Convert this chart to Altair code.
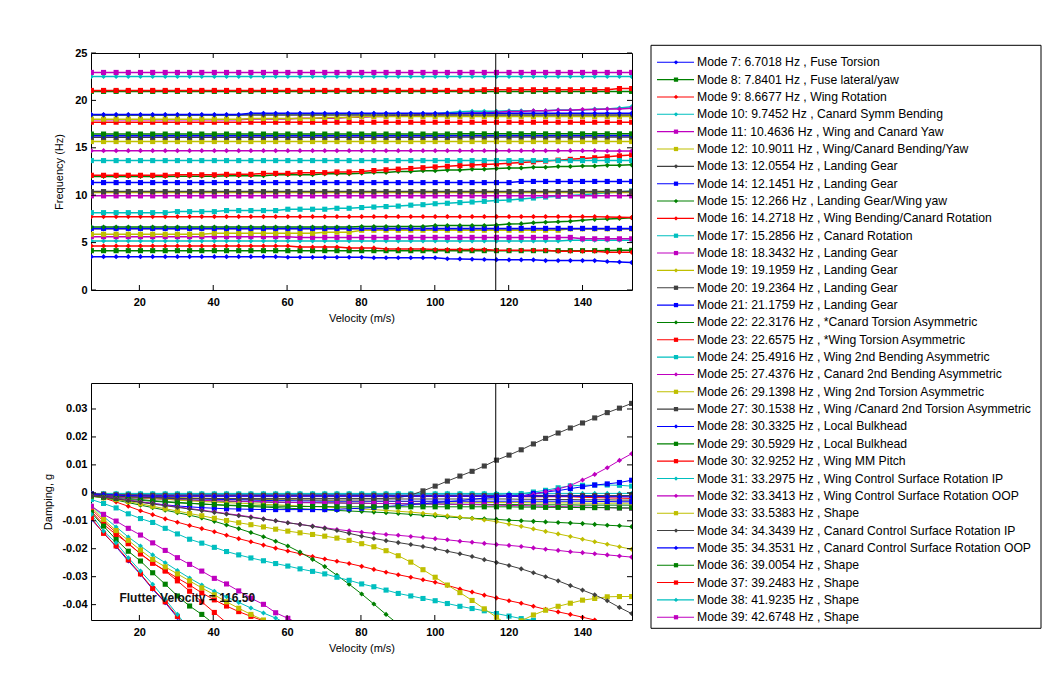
import altair as alt
import pandas as pd

# ---------------- data ----------------
VEL = [7.0, 10.3, 13.7, 17.0, 20.3, 23.6, 27.0, 30.3, 33.6, 36.9, 40.3, 43.6, 46.9, 50.2, 53.6,
       56.9, 60.2, 63.5, 66.9, 70.2, 73.5, 76.8, 80.2, 83.5, 86.8, 90.1, 93.5, 96.8, 100.1, 103.4,
       106.8, 110.1, 113.4, 116.7, 120.1, 123.4, 126.7, 130.0, 133.4, 136.7, 140.0, 143.3, 146.7, 150.0, 153.3]
FLUTTER_V = 116.5
X_DOMAIN = [6.9, 153.4]
X_TICKS = [20, 40, 60, 80, 100, 120, 140]
F_DOMAIN = [0, 25]
F_TICKS = [0, 5, 10, 15, 20, 25]
G_DOMAIN = [-0.0455, 0.0393]
G_TICKS = [-0.04, -0.03, -0.02, -0.01, 0, 0.01, 0.02, 0.03]
TEXT_V = 14.6
TEXT_G = -0.0375

MODES = list(range(7, 40))
LABELS = [
    "Mode 7: 6.7018 Hz , Fuse Torsion",
    "Mode 8: 7.8401 Hz , Fuse lateral/yaw",
    "Mode 9: 8.6677 Hz , Wing Rotation",
    "Mode 10: 9.7452 Hz , Canard Symm Bending",
    "Mode 11: 10.4636 Hz , Wing and Canard Yaw",
    "Mode 12: 10.9011 Hz , Wing/Canard Bending/Yaw",
    "Mode 13: 12.0554 Hz , Landing Gear",
    "Mode 14: 12.1451 Hz , Landing Gear",
    "Mode 15: 12.266 Hz , Landing Gear/Wing yaw",
    "Mode 16: 14.2718 Hz , Wing Bending/Canard Rotation",
    "Mode 17: 15.2856 Hz , Canard Rotation",
    "Mode 18: 18.3432 Hz , Landing Gear",
    "Mode 19: 19.1959 Hz , Landing Gear",
    "Mode 20: 19.2364 Hz , Landing Gear",
    "Mode 21: 21.1759 Hz , Landing Gear",
    "Mode 22: 22.3176 Hz , *Canard Torsion Asymmetric",
    "Mode 23: 22.6575 Hz , *Wing Torsion Asymmetric",
    "Mode 24: 25.4916 Hz , Wing 2nd Bending Asymmetric",
    "Mode 25: 27.4376 Hz , Canard 2nd Bending Asymmetric",
    "Mode 26: 29.1398 Hz , Wing  2nd Torsion Asymmetric",
    "Mode 27: 30.1538 Hz , Wing /Canard 2nd Torsion Asymmetric",
    "Mode 28: 30.3325 Hz , Local Bulkhead",
    "Mode 29: 30.5929 Hz , Local Bulkhead",
    "Mode 30: 32.9252 Hz , Wing MM Pitch",
    "Mode 31: 33.2975 Hz , Wing Control Surface Rotation IP",
    "Mode 32: 33.3413 Hz , Wing Control Surface Rotation OOP",
    "Mode 33: 33.5383 Hz , Shape",
    "Mode 34: 34.3439 Hz , Canard Control Surface Rotation IP",
    "Mode 35: 34.3531 Hz , Canard Control Surface Rotation OOP",
    "Mode 36: 39.0054 Hz , Shape",
    "Mode 37: 39.2483 Hz , Shape",
    "Mode 38: 41.9235 Hz , Shape",
    "Mode 39: 42.6748 Hz , Shape",
]

# frequency (Hz) per mode along VEL
f07 = [3.52,3.52,3.52,3.52,3.52,3.52,3.52,3.52,3.52,3.52,3.52,3.52,3.52,3.52,3.52,
       3.52,3.45,3.45,3.45,3.45,3.45,3.45,3.45,3.40,3.40,3.40,3.40,3.40,3.40,3.30,
       3.28,3.25,3.22,3.20,3.18,3.18,3.18,3.10,3.10,3.10,3.10,3.10,3.00,2.95,2.90]
f08 = [4.15,4.15,4.15,4.15,4.15,4.15,4.15,4.15,4.15,4.15,4.15,4.15,4.15,4.15,4.15,
       4.15,4.15,4.15,4.15,4.15,4.15,4.15,4.15,4.15,4.15,4.15,4.15,4.15,4.15,4.15,
       4.15,4.15,4.15,4.15,4.15,4.15,4.15,4.15,4.15,4.15,4.15,4.15,4.17,4.18,4.18]
f09 = [4.65,4.65,4.65,4.65,4.65,4.65,4.65,4.65,4.65,4.65,4.65,4.65,4.65,4.65,4.65,
       4.65,4.65,4.54,4.54,4.54,4.54,4.44,4.44,4.44,4.33,4.33,4.33,4.33,4.26,4.26,
       4.26,4.26,4.26,4.19,4.19,4.19,4.19,4.19,4.08,4.08,4.08,4.08,3.98,3.98,3.98]
f10 = [5.17,5.17,5.17,5.17,5.17,5.17,5.17,5.17,5.17,5.17,5.17,5.17,5.17,5.17,5.17,
       5.17,5.17,5.17,5.17,5.17,5.17,5.17,5.17,5.17,5.17,5.17,5.17,5.17,5.17,5.17,
       5.17,5.17,5.17,5.17,5.17,5.17,5.17,5.17,5.17,5.25,5.25,5.25,5.25,5.25,5.25]
f11 = [5.63,5.63,5.63,5.63,5.63,5.63,5.63,5.63,5.63,5.63,5.63,5.63,5.63,5.63,5.63,
       5.63,5.63,5.55,5.55,5.55,5.55,5.55,5.55,5.55,5.55,5.55,5.55,5.55,5.55,5.55,
       5.55,5.55,5.55,5.55,5.55,5.55,5.55,5.55,5.55,5.55,5.40,5.40,5.40,5.40,5.40]
f12 = [5.88,5.88,5.88,5.88,5.88,5.88,5.88,5.88,5.88,5.88,5.98,5.98,5.98,5.98,5.98,
       5.98,5.98,5.98,5.98,6.10,6.10,6.10,6.30,6.30,6.30,6.30,6.30,6.30,6.30,6.30,
       6.30,6.30,6.30,6.30,6.30,6.30,6.30,6.30,6.30,6.45,6.45,6.45,6.45,6.45,6.45]
f13 = [6.45,6.45,6.45,6.45,6.45,6.45,6.45,6.45,6.45,6.45,6.45,6.45,6.45,6.45,6.45,
       6.45,6.45,6.45,6.45,6.45,6.45,6.45,6.45,6.45,6.45,6.45,6.45,6.45,6.45,6.45,
       6.45,6.45,6.45,6.45,6.45,6.45,6.45,6.45,6.45,6.45,6.45,6.45,6.45,6.45,6.45]
f14 = [6.50,6.50,6.50,6.50,6.50,6.50,6.50,6.50,6.50,6.50,6.50,6.50,6.50,6.50,6.50,
       6.50,6.50,6.50,6.50,6.50,6.50,6.50,6.50,6.50,6.50,6.50,6.50,6.50,6.50,6.50,
       6.50,6.50,6.50,6.50,6.50,6.50,6.50,6.50,6.50,6.50,6.50,6.50,6.50,6.50,6.50]
f15 = [6.65,6.65,6.65,6.65,6.65,6.65,6.65,6.65,6.65,6.65,6.65,6.65,6.65,6.65,6.65,
       6.65,6.65,6.65,6.65,6.65,6.65,6.65,6.70,6.70,6.70,6.70,6.70,6.70,6.80,6.80,
       6.80,6.80,6.80,6.86,6.95,7.00,7.10,7.15,7.20,7.25,7.35,7.45,7.50,7.55,7.62]
f16 = [7.74,7.74,7.74,7.74,7.74,7.74,7.74,7.74,7.74,7.74,7.74,7.74,7.74,7.74,7.74,
       7.74,7.74,7.74,7.74,7.74,7.74,7.74,7.74,7.74,7.74,7.74,7.74,7.74,7.74,7.74,
       7.74,7.74,7.74,7.74,7.74,7.74,7.74,7.74,7.74,7.74,7.74,7.74,7.70,7.67,7.65]
f17 = [8.16,8.16,8.16,8.16,8.16,8.16,8.16,8.27,8.27,8.27,8.27,8.38,8.38,8.38,8.38,
       8.38,8.52,8.52,8.52,8.52,8.62,8.62,8.70,8.75,8.80,8.85,8.95,9.00,9.10,9.15,
       9.22,9.28,9.35,9.45,9.50,9.60,9.70,9.80,9.88,9.96,10.05,10.15,10.25,10.35,10.45]
f18 = [9.93,9.93,9.93,9.93,9.93,9.93,9.93,9.93,9.93,9.93,9.93,9.93,9.93,9.93,9.93,
       9.93,9.93,9.93,9.93,9.93,9.93,9.93,9.93,9.93,9.93,9.93,9.93,9.93,9.93,9.93,
       9.93,9.93,9.93,9.93,9.93,9.93,9.93,9.93,9.93,9.93,9.93,9.93,9.93,9.93,9.93]
f19 = [10.28,10.28,10.28,10.28,10.28,10.28,10.28,10.28,10.28,10.28,10.28,10.28,10.28,10.28,10.28,
       10.28,10.28,10.28,10.28,10.28,10.28,10.28,10.28,10.28,10.28,10.28,10.28,10.28,10.28,10.28,
       10.28,10.28,10.28,10.28,10.28,10.28,10.28,10.28,10.28,10.28,10.28,10.28,10.28,10.28,10.28]
f20 = [10.38,10.38,10.38,10.38,10.38,10.38,10.38,10.38,10.38,10.38,10.38,10.38,10.38,10.38,10.38,
       10.38,10.38,10.38,10.38,10.38,10.38,10.38,10.38,10.38,10.38,10.38,10.38,10.38,10.38,10.38,
       10.38,10.38,10.38,10.38,10.38,10.38,10.38,10.38,10.38,10.38,10.38,10.38,10.38,10.38,10.38]
f21 = [11.33,11.33,11.33,11.33,11.33,11.33,11.33,11.33,11.33,11.33,11.33,11.33,11.33,11.33,11.33,
       11.33,11.33,11.33,11.33,11.33,11.33,11.33,11.33,11.33,11.33,11.33,11.33,11.33,11.33,11.33,
       11.33,11.33,11.33,11.33,11.33,11.45,11.45,11.45,11.45,11.45,11.45,11.45,11.45,11.45,11.45]
f22 = [11.97,11.97,11.97,11.97,11.97,11.97,11.97,12.00,12.00,12.00,12.00,12.05,12.05,12.05,12.05,
       12.15,12.15,12.15,12.15,12.25,12.25,12.25,12.32,12.40,12.40,12.50,12.50,12.58,12.58,12.65,
       12.65,12.75,12.75,12.82,12.88,12.88,12.95,12.95,13.02,13.02,13.08,13.08,13.15,13.15,13.20]
f23 = [12.10,12.10,12.10,12.10,12.10,12.10,12.10,12.15,12.15,12.15,12.15,12.20,12.20,12.20,12.30,
       12.30,12.30,12.38,12.38,12.38,12.45,12.45,12.50,12.60,12.68,12.75,12.82,12.90,12.98,13.05,
       13.12,13.18,13.24,13.30,13.38,13.45,13.52,13.60,13.70,13.78,13.86,13.95,14.05,14.15,14.25]
f24 = [13.65,13.65,13.65,13.65,13.65,13.65,13.65,13.65,13.65,13.65,13.65,13.65,13.65,13.65,13.65,
       13.65,13.65,13.65,13.65,13.65,13.65,13.65,13.65,13.65,13.65,13.65,13.65,13.65,13.65,13.65,
       13.65,13.65,13.65,13.65,13.65,13.65,13.65,13.65,13.65,13.65,13.65,13.65,13.65,13.65,13.65]
f25 = [14.70,14.70,14.70,14.70,14.70,14.70,14.70,14.70,14.70,14.70,14.70,14.70,14.70,14.70,14.70,
       14.70,14.70,14.70,14.70,14.70,14.70,14.70,14.70,14.70,14.70,14.70,14.70,14.70,14.70,14.70,
       14.70,14.70,14.70,14.70,14.70,14.70,14.70,14.70,14.70,14.70,14.70,14.70,14.66,14.66,14.66]
f26 = [15.66,15.66,15.66,15.66,15.66,15.66,15.66,15.66,15.66,15.66,15.66,15.66,15.66,15.66,15.66,
       15.66,15.66,15.66,15.66,15.66,15.66,15.66,15.66,15.66,15.66,15.66,15.66,15.66,15.66,15.66,
       15.66,15.66,15.66,15.66,15.66,15.66,15.66,15.66,15.66,15.66,15.66,15.66,15.66,15.66,15.66]
f27 = [16.10,16.10,16.10,16.10,16.10,16.10,16.10,16.10,16.10,16.10,16.10,16.10,16.10,16.10,16.10,
       16.10,16.10,16.10,16.10,16.10,16.10,16.10,16.10,16.10,16.10,16.10,16.10,16.10,16.10,16.10,
       16.15,16.15,16.15,16.15,16.15,16.15,16.15,16.15,16.15,16.15,16.15,16.15,16.15,16.15,16.15]
f28 = [16.26,16.26,16.26,16.26,16.26,16.26,16.26,16.26,16.26,16.26,16.26,16.26,16.26,16.26,16.26,
       16.26,16.26,16.26,16.26,16.26,16.26,16.26,16.26,16.26,16.26,16.26,16.26,16.26,16.26,16.26,
       16.30,16.30,16.30,16.30,16.30,16.30,16.30,16.30,16.30,16.30,16.30,16.30,16.30,16.30,16.30]
f29 = [16.45,16.45,16.45,16.45,16.45,16.45,16.45,16.45,16.45,16.45,16.45,16.45,16.45,16.45,16.45,
       16.45,16.45,16.45,16.45,16.45,16.45,16.45,16.45,16.45,16.45,16.45,16.45,16.45,16.45,16.45,
       16.47,16.47,16.47,16.47,16.47,16.47,16.47,16.47,16.47,16.47,16.47,16.47,16.47,16.47,16.47]
f30 = [17.70,17.70,17.70,17.70,17.70,17.70,17.70,17.70,17.70,17.70,17.70,17.70,17.70,17.70,17.70,
       17.70,17.70,17.70,17.70,17.70,17.70,17.70,17.70,17.70,17.70,17.70,17.70,17.70,17.70,17.70,
       17.70,17.70,17.70,17.70,17.70,17.70,17.70,17.70,17.70,17.70,17.70,17.70,17.70,17.70,17.70]
f31 = [18.45,18.45,18.45,18.45,18.45,18.45,18.45,18.45,18.45,18.45,18.45,18.45,18.45,18.60,18.60,
       18.60,18.60,18.60,18.60,18.60,18.60,18.60,18.60,18.60,18.60,18.60,18.60,18.60,18.60,18.70,
       18.80,18.85,18.85,18.85,18.90,18.90,18.90,18.90,18.98,18.98,18.98,19.10,19.10,19.20,19.33]
f32 = [17.95,17.95,17.95,17.95,17.95,17.95,17.95,17.95,17.95,17.95,17.95,17.95,17.95,18.05,18.05,
       18.05,18.05,18.12,18.12,18.12,18.12,18.22,18.22,18.30,18.30,18.40,18.40,18.50,18.50,18.60,
       18.60,18.68,18.68,18.75,18.82,18.82,18.90,18.90,18.97,18.97,19.03,19.03,19.10,19.10,19.17]
f33 = [18.02,18.02,18.02,18.02,18.02,18.02,18.02,18.02,18.02,18.02,18.02,18.02,18.02,18.10,18.10,
       18.10,18.10,18.10,18.10,18.20,18.20,18.20,18.30,18.30,18.30,18.30,18.30,18.30,18.30,18.30,
       18.30,18.30,18.30,18.30,18.30,18.30,18.30,18.30,18.30,18.30,18.30,18.30,18.30,18.30,18.30]
f34 = [18.45,18.45,18.45,18.45,18.45,18.45,18.45,18.45,18.45,18.45,18.45,18.45,18.45,18.45,18.45,
       18.45,18.45,18.45,18.45,18.45,18.45,18.45,18.45,18.45,18.45,18.45,18.45,18.45,18.45,18.45,
       18.45,18.45,18.45,18.45,18.45,18.45,18.45,18.45,18.45,18.45,18.45,18.45,18.45,18.45,18.45]
f35 = [18.52,18.52,18.52,18.52,18.52,18.52,18.52,18.52,18.52,18.52,18.52,18.52,18.52,18.65,18.65,
       18.65,18.65,18.65,18.65,18.65,18.65,18.65,18.65,18.65,18.65,18.65,18.65,18.65,18.65,18.65,
       18.65,18.65,18.65,18.65,18.65,18.65,18.65,18.65,18.65,18.65,18.65,18.65,18.65,18.65,18.65]
f36 = [20.95,20.95,20.95,20.95,20.95,20.95,20.95,20.95,20.95,20.95,20.95,20.95,20.95,20.95,20.95,
       20.95,20.95,20.95,20.95,20.95,20.95,20.95,20.95,20.95,20.95,20.95,20.95,20.95,20.95,20.95,
       20.95,20.95,20.95,20.95,20.95,20.95,20.95,20.95,20.95,20.95,20.95,20.95,20.95,20.95,20.95]
f37 = [21.05,21.05,21.05,21.05,21.05,21.05,21.05,21.05,21.05,21.05,21.05,21.05,21.05,21.05,21.05,
       21.05,21.05,21.05,21.05,21.05,21.05,21.05,21.05,21.05,21.05,21.05,21.05,21.05,21.05,21.05,
       21.05,21.05,21.12,21.12,21.12,21.12,21.12,21.12,21.12,21.12,21.12,21.12,21.12,21.25,21.25]
f38 = [22.52,22.52,22.52,22.52,22.52,22.52,22.52,22.52,22.52,22.52,22.52,22.52,22.52,22.52,22.52,
       22.52,22.52,22.52,22.52,22.52,22.52,22.52,22.52,22.52,22.52,22.52,22.52,22.52,22.52,22.52,
       22.52,22.52,22.52,22.52,22.52,22.52,22.52,22.52,22.52,22.52,22.52,22.52,22.52,22.52,22.52]
f39 = [22.95,22.95,22.95,22.95,22.95,22.95,22.95,22.95,22.95,22.95,22.95,22.95,22.95,22.95,22.95,
       22.95,22.95,22.95,22.95,22.95,22.95,22.95,22.95,22.95,22.95,22.95,22.95,22.95,22.95,22.95,
       22.95,22.95,22.95,22.95,22.95,22.95,22.95,22.95,22.95,22.95,22.95,22.95,22.95,22.95,22.95]

# damping g per mode along VEL (series that leave the plot stop just below it)
g07 = [-0.0003,-0.0004,-0.0005,-0.0006,-0.0006,-0.0007,-0.0007,-0.0007,-0.0007,-0.0007,-0.0007,-0.0007,-0.0007,-0.0007,-0.0007,
       -0.0007,-0.0007,-0.0007,-0.0007,-0.0007,-0.0007,-0.0007,-0.0007,-0.0007,-0.0007,-0.0008,-0.0008,-0.0008,-0.0008,-0.0008,
       -0.0008,-0.0008,-0.0008,-0.0008,-0.0008,-0.0009,-0.0009,-0.0009,-0.0009,-0.0009,-0.0010,-0.0010,-0.0010,-0.0010,-0.0010]
g08 = [-0.0006,-0.0009,-0.0012,-0.0015,-0.0018,-0.0020,-0.0022,-0.0024,-0.0026,-0.0028,-0.0029,-0.0030,-0.0031,-0.0032,-0.0033,
       -0.0034,-0.0034,-0.0035,-0.0035,-0.0036,-0.0036,-0.0037,-0.0037,-0.0038,-0.0038,-0.0039,-0.0039,-0.0040,-0.0040,-0.0040,
       -0.0041,-0.0041,-0.0041,-0.0042,-0.0042,-0.0042,-0.0043,-0.0043,-0.0043,-0.0043,-0.0044,-0.0044,-0.0044,-0.0044,-0.0044]
g09 = [-0.0004,-0.0005,-0.0006,-0.0007,-0.0008,-0.0009,-0.0009,-0.0009,-0.0009,-0.0009,-0.0009,-0.0009,-0.0009,-0.0009,-0.0009,
       -0.0009,-0.0009,-0.0009,-0.0009,-0.0009,-0.0010,-0.0010,-0.0010,-0.0010,-0.0010,-0.0010,-0.0010,-0.0010,-0.0010,-0.0010,
       -0.0012,-0.0012,-0.0012,-0.0012,-0.0012,-0.0014,-0.0014,-0.0014,-0.0014,-0.0014,-0.0016,-0.0017,-0.0018,-0.0019,-0.0020]
g10 = [-0.0002,-0.0002,-0.0002,-0.0002,-0.0002,-0.0002,-0.0002,-0.0002,-0.0002,-0.0002,-0.0002,-0.0002,-0.0002,-0.0002,-0.0002,
       -0.0002,-0.0002,-0.0002,-0.0002,-0.0002,-0.0002,-0.0002,-0.0002,-0.0002,-0.0002,-0.0002,-0.0002,-0.0002,-0.0002,-0.0002,
       -0.0002,-0.0002,-0.0002,-0.0002,-0.0002,-0.0002,-0.0002,-0.0002,-0.0002,-0.0002,-0.0002,-0.0002,-0.0002,-0.0002,-0.0002]
g11 = [-0.0005,-0.0007,-0.0009,-0.0010,-0.0010,-0.0010,-0.0010,-0.0010,-0.0010,-0.0010,-0.0010,-0.0010,-0.0010,-0.0010,-0.0010,
       -0.0010,-0.0010,-0.0010,-0.0010,-0.0010,-0.0010,-0.0010,-0.0010,-0.0010,-0.0010,-0.0012,-0.0012,-0.0012,-0.0012,-0.0012,
       -0.0012,-0.0012,-0.0012,-0.0012,-0.0012,-0.0012,-0.0012,-0.0012,-0.0012,-0.0012,-0.0012,-0.0012,-0.0012,-0.0012,-0.0012]
g12 = [-0.0004,-0.0006,-0.0008,-0.0010,-0.0012,-0.0014,-0.0016,-0.0017,-0.0018,-0.0019,-0.0020,-0.0021,-0.0022,-0.0023,-0.0024,
       -0.0025,-0.0025,-0.0026,-0.0027,-0.0027,-0.0028,-0.0029,-0.0029,-0.0030,-0.0030,-0.0031,-0.0031,-0.0032,-0.0032,-0.0033,
       -0.0033,-0.0034,-0.0034,-0.0035,-0.0035,-0.0035,-0.0036,-0.0036,-0.0036,-0.0036,-0.0037,-0.0037,-0.0037,-0.0037,-0.0037]
g13 = [-0.0005,-0.0008,-0.0011,-0.0014,-0.0016,-0.0018,-0.0019,-0.0020,-0.0021,-0.0021,-0.0022,-0.0022,-0.0022,-0.0022,-0.0022,
       -0.0022,-0.0022,-0.0022,-0.0022,-0.0022,-0.0022,-0.0022,-0.0022,-0.0022,-0.0022,-0.0022,-0.0022,-0.0022,-0.0022,-0.0022,
       -0.0022,-0.0022,-0.0022,-0.0022,-0.0022,-0.0023,-0.0023,-0.0024,-0.0024,-0.0024,-0.0025,-0.0025,-0.0025,-0.0026,-0.0026]
g14 = [-0.0008,-0.0010,-0.0012,-0.0014,-0.0016,-0.0018,-0.0019,-0.0020,-0.0021,-0.0022,-0.0023,-0.0024,-0.0025,-0.0026,-0.0027,
       -0.0028,-0.0028,-0.0029,-0.0029,-0.0030,-0.0030,-0.0030,-0.0030,-0.0030,-0.0030,-0.0030,-0.0030,-0.0030,-0.0030,-0.0030,
       -0.0030,-0.0030,-0.0030,-0.0030,-0.0030,-0.0030,-0.0030,-0.0030,-0.0030,-0.0030,-0.0030,-0.0031,-0.0031,-0.0032,-0.0032]
g15 = [-0.0008,-0.0012,-0.0016,-0.0020,-0.0024,-0.0028,-0.0031,-0.0034,-0.0037,-0.0040,-0.0043,-0.0045,-0.0047,-0.0049,-0.0051,
       -0.0053,-0.0055,-0.0057,-0.0059,-0.0061,-0.0063,-0.0065,-0.0067,-0.0069,-0.0071,-0.0074,-0.0077,-0.0080,-0.0083,-0.0086,
       -0.0089,-0.0091,-0.0093,-0.0095,-0.0098,-0.0100,-0.0102,-0.0104,-0.0106,-0.0108,-0.0110,-0.0113,-0.0116,-0.0118,-0.0121]
g16 = [-0.0006,-0.0018,-0.0033,-0.0048,-0.0064,-0.0078,-0.0093,-0.0105,-0.0117,-0.0128,-0.0139,-0.0152,-0.0164,-0.0175,-0.0187,
       -0.0198,-0.0208,-0.0218,-0.0228,-0.0237,-0.0245,-0.0253,-0.0263,-0.0274,-0.0284,-0.0293,-0.0302,-0.0311,-0.0320,-0.0331,
       -0.0344,-0.0355,-0.0366,-0.0376,-0.0386,-0.0395,-0.0406,-0.0417,-0.0426,-0.0435,-0.0445,-0.0455,-0.0465]
g17 = [-0.0004,-0.0004,-0.0004,-0.0004,-0.0004,-0.0004,-0.0004,-0.0004,-0.0004,-0.0004,-0.0004,-0.0004,-0.0004,-0.0004,-0.0004,
       -0.0004,-0.0004,-0.0004,-0.0004,-0.0004,-0.0004,-0.0004,-0.0004,-0.0004,-0.0004,-0.0004,-0.0004,-0.0004,-0.0004,-0.0004,
       -0.0004,-0.0004,-0.0004,-0.0006,-0.0010,-0.0003,0.0003,0.0009,0.0018,0.0025,0.0027,0.0028,0.0028,0.0027,0.0024]
g18 = [-0.0008,-0.0011,-0.0014,-0.0017,-0.0019,-0.0021,-0.0023,-0.0025,-0.0026,-0.0027,-0.0028,-0.0029,-0.0030,-0.0031,-0.0032,
       -0.0033,-0.0034,-0.0035,-0.0035,-0.0036,-0.0036,-0.0037,-0.0037,-0.0038,-0.0038,-0.0039,-0.0039,-0.0040,-0.0040,-0.0041,
       -0.0041,-0.0042,-0.0043,-0.0044,-0.0045,-0.0046,-0.0047,-0.0048,-0.0049,-0.0050,-0.0051,-0.0052,-0.0053,-0.0054,-0.0055]
g19 = [-0.0005,-0.0008,-0.0011,-0.0014,-0.0017,-0.0020,-0.0023,-0.0026,-0.0029,-0.0031,-0.0033,-0.0035,-0.0037,-0.0039,-0.0041,
       -0.0043,-0.0045,-0.0047,-0.0049,-0.0051,-0.0053,-0.0055,-0.0058,-0.0060,-0.0063,-0.0066,-0.0069,-0.0073,-0.0077,-0.0082,
       -0.0087,-0.0092,-0.0097,-0.0103,-0.0112,-0.0120,-0.0129,-0.0138,-0.0147,-0.0156,-0.0166,-0.0175,-0.0184,-0.0193,-0.0202]
g20 = [-0.0003,-0.0005,-0.0007,-0.0008,-0.0009,-0.0009,-0.0009,-0.0009,-0.0009,-0.0009,-0.0009,-0.0009,-0.0009,-0.0009,-0.0009,
       -0.0009,-0.0009,-0.0009,-0.0009,-0.0009,-0.0009,-0.0009,-0.0009,-0.0009,-0.0009,-0.0010,-0.0010,-0.0010,-0.0010,-0.0010,
       -0.0010,-0.0010,-0.0010,-0.0010,-0.0010,-0.0010,-0.0010,-0.0010,-0.0010,-0.0010,-0.0010,-0.0010,-0.0010,-0.0010,-0.0010]
g21 = [-0.0005,-0.0012,-0.0020,-0.0027,-0.0033,-0.0038,-0.0043,-0.0047,-0.0050,-0.0053,-0.0055,-0.0057,-0.0058,-0.0059,-0.0060,
       -0.0060,-0.0060,-0.0060,-0.0060,-0.0060,-0.0059,-0.0057,-0.0055,-0.0052,-0.0049,-0.0046,-0.0042,-0.0039,-0.0035,-0.0032,
       -0.0028,-0.0023,-0.0019,-0.0015,-0.0010,-0.0012,-0.0002,0.0003,0.0008,0.0015,0.0022,0.0028,0.0032,0.0037,0.0045]
g22 = [-0.0012,-0.0018,-0.0026,-0.0035,-0.0044,-0.0053,-0.0062,-0.0071,-0.0080,-0.0090,-0.0102,-0.0115,-0.0128,-0.0142,-0.0157,
       -0.0173,-0.0190,-0.0212,-0.0238,-0.0264,-0.0295,-0.0327,-0.0362,-0.0398,-0.0435,-0.0470]
g23 = [-0.0058,-0.0102,-0.0142,-0.0182,-0.0218,-0.0252,-0.0278,-0.0305,-0.0330,-0.0358,-0.0383,-0.0405,-0.0425,-0.0442,-0.0458,
       -0.0480]
g24 = [-0.0024,-0.0038,-0.0054,-0.0075,-0.0092,-0.0106,-0.0127,-0.0147,-0.0166,-0.0180,-0.0195,-0.0210,-0.0222,-0.0233,-0.0243,
       -0.0253,-0.0262,-0.0272,-0.0281,-0.0290,-0.0302,-0.0313,-0.0326,-0.0336,-0.0348,-0.0360,-0.0369,-0.0378,-0.0386,-0.0396,
       -0.0406,-0.0414,-0.0422,-0.0432,-0.0441,-0.0450,-0.0456,-0.0470]
g25 = [-0.0004,-0.0006,-0.0008,-0.0010,-0.0012,-0.0012,-0.0012,-0.0012,-0.0012,-0.0012,-0.0012,-0.0012,-0.0012,-0.0012,-0.0012,
       -0.0012,-0.0012,-0.0012,-0.0012,-0.0012,-0.0012,-0.0012,-0.0012,-0.0012,-0.0012,-0.0012,-0.0012,-0.0012,-0.0012,-0.0012,
       -0.0012,-0.0012,-0.0012,-0.0012,-0.0012,-0.0012,-0.0006,0.0004,0.0014,0.0026,0.0046,0.0066,0.0090,0.0116,0.0140]
g26 = [-0.0012,-0.0018,-0.0024,-0.0031,-0.0039,-0.0048,-0.0057,-0.0065,-0.0074,-0.0082,-0.0091,-0.0099,-0.0107,-0.0114,-0.0122,
       -0.0130,-0.0137,-0.0143,-0.0149,-0.0155,-0.0162,-0.0170,-0.0182,-0.0193,-0.0207,-0.0225,-0.0248,-0.0275,-0.0302,-0.0330,
       -0.0357,-0.0385,-0.0415,-0.0445,-0.0475,-0.0458,-0.0437,-0.0420,-0.0406,-0.0395,-0.0384,-0.0378,-0.0372,-0.0371,-0.0371]
g27 = [-0.0008,-0.0010,-0.0012,-0.0014,-0.0016,-0.0017,-0.0018,-0.0019,-0.0020,-0.0020,-0.0020,-0.0020,-0.0020,-0.0020,-0.0020,
       -0.0020,-0.0020,-0.0020,-0.0020,-0.0020,-0.0020,-0.0020,-0.0020,-0.0020,-0.0020,-0.0018,-0.0008,0.0007,0.0024,0.0042,
       0.0060,0.0077,0.0096,0.0117,0.0135,0.0154,0.0175,0.0195,0.0214,0.0232,0.0250,0.0268,0.0287,0.0303,0.0320]
g28 = [-0.0004,-0.0006,-0.0008,-0.0010,-0.0011,-0.0012,-0.0012,-0.0012,-0.0012,-0.0012,-0.0012,-0.0012,-0.0012,-0.0012,-0.0012,
       -0.0012,-0.0012,-0.0012,-0.0012,-0.0012,-0.0012,-0.0012,-0.0012,-0.0012,-0.0012,-0.0012,-0.0012,-0.0012,-0.0012,-0.0012,
       -0.0012,-0.0012,-0.0012,-0.0012,-0.0012,-0.0012,-0.0012,-0.0012,-0.0012,-0.0012,-0.0013,-0.0013,-0.0014,-0.0014,-0.0015]
g29 = [-0.0012,-0.0016,-0.0020,-0.0024,-0.0027,-0.0030,-0.0033,-0.0036,-0.0038,-0.0040,-0.0042,-0.0044,-0.0045,-0.0046,-0.0047,
       -0.0048,-0.0048,-0.0049,-0.0049,-0.0049,-0.0050,-0.0050,-0.0050,-0.0050,-0.0050,-0.0050,-0.0050,-0.0050,-0.0050,-0.0050,
       -0.0050,-0.0050,-0.0050,-0.0050,-0.0050,-0.0051,-0.0051,-0.0052,-0.0052,-0.0052,-0.0053,-0.0053,-0.0053,-0.0054,-0.0054]
g30 = [-0.0066,-0.0113,-0.0149,-0.0181,-0.0218,-0.0250,-0.0280,-0.0315,-0.0352,-0.0390,-0.0428,-0.0465]
g31 = [-0.0045,-0.0085,-0.0122,-0.0158,-0.0190,-0.0222,-0.0250,-0.0278,-0.0305,-0.0330,-0.0352,-0.0372,-0.0392,-0.0412,-0.0430,
       -0.0448,-0.0470]
g32 = [-0.0010,-0.0015,-0.0020,-0.0026,-0.0032,-0.0038,-0.0044,-0.0050,-0.0056,-0.0062,-0.0068,-0.0074,-0.0080,-0.0086,-0.0093,
       -0.0100,-0.0107,-0.0113,-0.0119,-0.0125,-0.0131,-0.0136,-0.0141,-0.0145,-0.0149,-0.0152,-0.0156,-0.0160,-0.0164,-0.0168,
       -0.0173,-0.0177,-0.0181,-0.0185,-0.0188,-0.0192,-0.0197,-0.0202,-0.0206,-0.0211,-0.0214,-0.0218,-0.0222,-0.0226,-0.0230]
g33 = [-0.0050,-0.0095,-0.0135,-0.0170,-0.0205,-0.0238,-0.0265,-0.0290,-0.0315,-0.0340,-0.0365,-0.0390,-0.0413,-0.0435,-0.0455,
       -0.0480]
g34 = [-0.0010,-0.0016,-0.0022,-0.0028,-0.0034,-0.0040,-0.0046,-0.0052,-0.0058,-0.0064,-0.0070,-0.0076,-0.0082,-0.0088,-0.0094,
       -0.0100,-0.0107,-0.0113,-0.0120,-0.0127,-0.0135,-0.0145,-0.0155,-0.0163,-0.0171,-0.0178,-0.0185,-0.0192,-0.0200,-0.0209,
       -0.0218,-0.0228,-0.0239,-0.0249,-0.0260,-0.0272,-0.0286,-0.0300,-0.0315,-0.0332,-0.0348,-0.0365,-0.0386,-0.0410,-0.0432]
g35 = [-0.0095,-0.0143,-0.0193,-0.0244,-0.0292,-0.0345,-0.0393,-0.0446,-0.0498]
g36 = [-0.0071,-0.0119,-0.0167,-0.0209,-0.0244,-0.0286,-0.0327,-0.0369,-0.0405,-0.0435,-0.0470]
g37 = [-0.0090,-0.0145,-0.0190,-0.0240,-0.0290,-0.0342,-0.0390,-0.0442,-0.0495]
g38 = [-0.0077,-0.0137,-0.0179,-0.0232,-0.0280,-0.0327,-0.0381,-0.0435,-0.0490]
g39 = [-0.0048,-0.0077,-0.0101,-0.0127,-0.0151,-0.0179,-0.0206,-0.0232,-0.0256,-0.0280,-0.0306,-0.0326,-0.0351,-0.0377,-0.0399,
       -0.0429,-0.0449,-0.0470]

FREQS = [f07, f08, f09, f10, f11, f12, f13, f14, f15, f16, f17, f18, f19, f20, f21, f22, f23,
         f24, f25, f26, f27, f28, f29, f30, f31, f32, f33, f34, f35, f36, f37, f38, f39]
DAMPS = [g07, g08, g09, g10, g11, g12, g13, g14, g15, g16, g17, g18, g19, g20, g21, g22, g23,
         g24, g25, g26, g27, g28, g29, g30, g31, g32, g33, g34, g35, g36, g37, g38, g39]

# ---------------- styling ----------------
FONT = "Liberation Sans"
CYCLE = ["#0000FF", "#008000", "#FF0000", "#00BFBF", "#BF00BF", "#BFBF00", "#404040"]
SHAPE_CODE = "DSDDSSDSDDSSDSSDSSDSSDSSDDSDDSSDS"
PLOT_W, PLOT_H = 541, 237
LEG_W, LEG_H = 390, 575

names = [f"Mode {m}" for m in MODES]
colors = [CYCLE[(m - 7) % 7] for m in MODES]
shapes = ["diamond" if c == "D" else "square" for c in SHAPE_CODE]

rows_f, rows_g = [], []
for m, name, fs, gs in zip(MODES, names, FREQS, DAMPS):
    for v, f in zip(VEL, fs):
        rows_f.append({"mode": name, "m": m, "V": v, "val": f})
    for v, g in zip(VEL, gs):
        rows_g.append({"mode": name, "m": m, "V": v, "val": g})
df_f = pd.DataFrame(rows_f)
df_g = pd.DataFrame(rows_g)
one = pd.DataFrame({"k": [0]})

cscale = alt.Scale(domain=names, range=colors)
sscale = alt.Scale(domain=names, range=shapes)
xs = alt.Scale(domain=X_DOMAIN, nice=False, zero=False)
xax = alt.Axis(values=X_TICKS, title="Velocity (m/s)", format="d", labelPadding=6, titlePadding=5)


def panel(df, ydom, yticks, ytitle, tpad, lexpr, lw, extra=None):
    ys = alt.Scale(domain=ydom, nice=False, zero=False)
    yax = alt.Axis(values=yticks, title=ytitle, labelPadding=4, titlePadding=tpad, labelExpr=lexpr)
    X = alt.X("V:Q", scale=xs, axis=xax)
    Y = alt.Y("val:Q", scale=ys, axis=yax)
    col = alt.Color("mode:N", scale=cscale, legend=None)
    base = alt.Chart(df)
    lines = base.mark_line(strokeWidth=lw, clip=True).encode(x=X, y=Y, color=col, detail="mode:N")
    pts = base.mark_point(filled=True, opacity=1, size=26, clip=True, strokeWidth=0).encode(
        x=X, y=Y, color=col, shape=alt.Shape("mode:N", scale=sscale, legend=None), order=alt.Order("m:Q"))
    xt = pd.DataFrame({"t": X_TICKS})
    yt = pd.DataFrame({"t": yticks})
    TX = alt.X("t:Q", scale=xs, axis=xax)
    TY = alt.Y("t:Q", scale=ys, axis=yax)
    tk1 = alt.Chart(xt).mark_rule(color="black").encode(x=TX, y=alt.value(PLOT_H), y2=alt.value(PLOT_H - 5))
    tk2 = alt.Chart(xt).mark_rule(color="black").encode(x=TX, y=alt.value(0), y2=alt.value(5))
    tk3 = alt.Chart(yt).mark_rule(color="black").encode(y=TY, x=alt.value(0), x2=alt.value(5))
    tk4 = alt.Chart(yt).mark_rule(color="black").encode(y=TY, x=alt.value(PLOT_W - 5), x2=alt.value(PLOT_W))
    flutter = alt.Chart(one).mark_rule(color="black", strokeWidth=1).encode(
        x=alt.X(datum=FLUTTER_V, scale=xs, axis=xax))
    layers = [lines, pts, tk1, tk2, tk3, tk4, flutter]
    if extra is not None:
        layers.append(extra(xs, ys, xax, yax))
    return alt.layer(*layers).properties(width=PLOT_W, height=PLOT_H)


def flutter_text(xs, ys, xax, yax):
    return alt.Chart(one).mark_text(align="left", baseline="middle", fontSize=12, font=FONT,
                                    fontWeight="bold", color="#111111").encode(
        x=alt.X(datum=TEXT_V, scale=xs, axis=xax),
        y=alt.Y(datum=TEXT_G, scale=ys, axis=yax),
        text=alt.value(f"Flutter Velocity = {FLUTTER_V:.2f}"))


top = panel(df_f, F_DOMAIN, F_TICKS, "Frequency (Hz)", 10, "datum.label", 1.5)
bottom = panel(df_g, G_DOMAIN, G_TICKS, "Damping, g", 8,
               "abs(datum.value) < 1e-9 ? '0' : (datum.value < 0 ? '-' : '') + format(abs(datum.value), '.2f')",
               1.0, extra=flutter_text)

# ---------------- legend panel ----------------
leg_df = pd.DataFrame({"row": list(range(len(MODES))), "mode": names, "label": LABELS, "m": MODES})
LY = alt.Y("row:Q", scale=alt.Scale(domain=[-0.536, 32.62], reverse=True, nice=False, zero=False), axis=None)
lcol = alt.Color("mode:N", scale=cscale, legend=None)
leg_box = alt.Chart(one).mark_rect(fillOpacity=0, stroke="black", strokeWidth=1).encode(
    x=alt.value(0), x2=alt.value(LEG_W), y=alt.value(-7.7), y2=alt.value(575.3))
leg_lines = alt.Chart(leg_df).mark_rule(strokeWidth=1.1).encode(
    x=alt.value(6), x2=alt.value(43), y=LY, color=lcol)
leg_pts = alt.Chart(leg_df).mark_point(filled=True, opacity=1, size=18, strokeWidth=0).encode(
    x=alt.value(25), y=LY, color=lcol, shape=alt.Shape("mode:N", scale=sscale, legend=None))
leg_text = alt.Chart(leg_df).mark_text(align="left", baseline="middle", fontSize=12.2, font=FONT,
                                       color="black").encode(x=alt.value(46), y=LY, text="label:N")
legend = alt.layer(leg_box, leg_lines, leg_pts, leg_text).properties(
    width=LEG_W, height=LEG_H, view=alt.ViewConfig(stroke=None))

left = alt.vconcat(top, bottom, spacing=58)
chart = alt.hconcat(left, legend, spacing=17).properties(
    padding={"left": 34, "top": 36, "right": 5, "bottom": 5}, background="white"
).configure_view(stroke="black", strokeWidth=1).configure_axis(
    grid=False, ticks=False, domain=False, labelFont=FONT, labelFontSize=11, labelFontWeight="bold",
    labelColor="black", titleFont=FONT, titleFontSize=11, titleFontWeight="normal", titleColor="black")

chart.save("out.html", embed_options={"renderer": "svg", "actions": False})
